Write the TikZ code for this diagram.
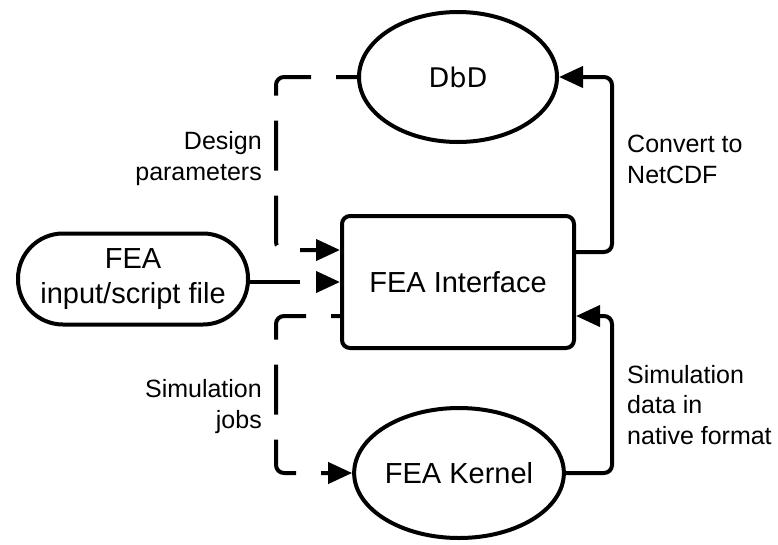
\documentclass[tikz,border=0pt]{standalone}
\usepackage{fontspec}
\setmainfont{Liberation Sans}
\newfontfamily\dejavu{DejaVu Sans}
\usetikzlibrary{shapes.geometric,arrows.meta}

\begin{document}
\begin{tikzpicture}[x=1pt,y=-1pt,
  every node/.style={inner sep=0pt},
  box/.style={draw,line width=4pt,fill=white,align=center,
    font=\fontsize{29}{35}\selectfont},
  oval/.style={box,ellipse},
  lbl/.style={font=\fontsize{25}{30.5}\selectfont},
  link/.style={line width=4pt,rounded corners=8pt,
    -{Triangle[length=24pt,width=21pt]}},
  dashlink/.style={link,dash pattern=on 50pt off 25pt}]

\useasboundingbox (0,0) rectangle (778,544);

% blocks
\node[oval,minimum width=198pt,minimum height=130pt,
  font=\dejavu\fontsize{27}{32}\selectfont] (dbd) at (458,77) {DbD};
\node[box,rounded corners=8pt,minimum width=232pt,minimum height=132pt]
  (iface) at (458,282) {FEA Interface};
\node[box,rounded corners=45pt,minimum width=230pt,minimum height=91pt]
  (input) at (133,279) {FEA\\input/script file};
\node[oval,minimum width=200pt,minimum height=130pt]
  (kernel) at (459,473) {FEA Kernel};

% connectors
\draw[dashlink,dash phase=29pt] (dbd.west) -| (276,250)
  -- ([yshift=32pt]iface.west);
\draw[dashlink] (input.east |- iface.west) -- (iface.west);
\draw[dashlink,dash phase=41pt] ([yshift=-34pt]iface.west) -| (276,473)
  -- (kernel.west);
\draw[link] ([yshift=30pt]iface.east) -| (612,77) -- (dbd.east);
\draw[link] (kernel.east) -| (612,316) -- ([yshift=-34pt]iface.east);

% labels (base anchor sits on the last line)
\node[lbl,align=right,anchor=base east] (ldesign) at (262,180)
  {Design\\parameters};
\node[lbl,align=right,anchor=base east] (ljobs) at (262,428)
  {Simulation\\jobs};
\node[lbl,align=left,anchor=base west] (lconv) at (627,183)
  {Convert to\\NetCDF};
\node[lbl,align=left,anchor=base west] (ldata) at (627,444)
  {Simulation\\data in\\native format};
\end{tikzpicture}
\end{document}
